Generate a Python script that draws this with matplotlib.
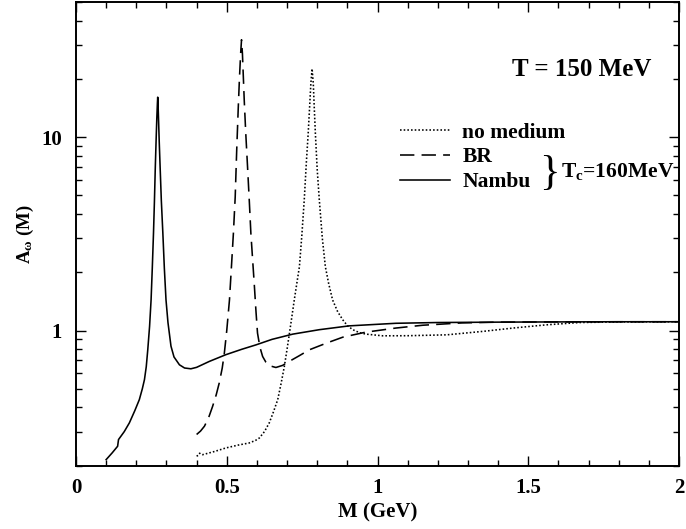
import matplotlib
matplotlib.use("Agg")
import matplotlib.pyplot as plt
from matplotlib.ticker import FixedLocator, NullFormatter, LogLocator

plt.rcParams['font.family'] = ['Liberation Serif', 'DejaVu Serif']
plt.rcParams['font.weight'] = 'bold'
plt.rcParams['mathtext.fontset'] = 'custom'
plt.rcParams['mathtext.rm'] = 'Liberation Serif:bold'
plt.rcParams['mathtext.bf'] = 'Liberation Serif:bold'
plt.rcParams['mathtext.it'] = 'Liberation Serif:bold'

# ---- data ----
nambu_x = [0.10, 0.120, 0.138, 0.141, 0.160, 0.177, 0.195, 0.210, 0.220, 0.227, 0.233, 0.238,
           0.244, 0.249, 0.253, 0.257, 0.260, 0.263, 0.266, 0.268, 0.270, 0.271, 0.272, 0.274,
           0.276, 0.279, 0.283, 0.288, 0.293, 0.2985, 0.305, 0.315, 0.325, 0.343, 0.360, 0.381,
           0.400, 0.442, 0.497, 0.550, 0.597, 0.650, 0.719, 0.807, 0.906, 1.061, 1.200, 1.400,
           1.600, 1.800, 2.000]
nambu_y = [0.215, 0.233, 0.252, 0.273, 0.300, 0.333, 0.385, 0.439, 0.500, 0.557, 0.650, 0.795,
           1.05, 1.44, 2.10, 3.19, 4.60, 7.00, 10.0, 12.5, 15.0, 16.1, 15.0, 12.0,
           9.50, 7.00, 4.70, 3.20, 2.10, 1.44, 1.10, 0.830, 0.730, 0.665, 0.640, 0.634,
           0.645, 0.692, 0.750, 0.800, 0.843, 0.900, 0.958, 1.010, 1.057, 1.090, 1.100, 1.105,
           1.108, 1.110, 1.110]

br_x = [0.400, 0.413, 0.426, 0.440, 0.453, 0.465, 0.475, 0.485, 0.492, 0.500, 0.509, 0.516,
        0.522, 0.528, 0.533, 0.538, 0.542, 0.546, 0.549, 0.552, 0.555, 0.558, 0.563, 0.569,
        0.575, 0.580, 0.586, 0.591, 0.597, 0.602, 0.610, 0.619, 0.630, 0.641, 0.663, 0.685,
        0.707, 0.740, 0.774, 0.830, 0.885, 0.960, 1.061, 1.150, 1.280, 1.400, 1.600, 1.800,
        2.000]
br_y = [0.290, 0.302, 0.320, 0.355, 0.405, 0.465, 0.535, 0.640, 0.764, 1.00, 1.44, 2.20,
        3.18, 4.90, 8.57, 14.0, 20.0, 27.0, 31.9, 27.0, 20.5, 15.5, 10.5, 7.00,
        4.60, 3.18, 2.30, 1.76, 1.25, 0.970, 0.820, 0.734, 0.685, 0.658, 0.644, 0.660,
        0.692, 0.740, 0.795, 0.860, 0.924, 0.980, 1.030, 1.065, 1.095, 1.105, 1.108, 1.110,
        1.110]

nm_x = [0.400, 0.405, 0.410, 0.415, 0.420, 0.460, 0.497, 0.540, 0.574, 0.595, 0.608, 0.625,
        0.641, 0.655, 0.669, 0.680, 0.691, 0.700, 0.708, 0.716, 0.724, 0.733, 0.741, 0.749,
        0.757, 0.764, 0.770, 0.775, 0.779, 0.783, 0.787, 0.790, 0.794, 0.800, 0.807, 0.817,
        0.827, 0.838, 0.851, 0.868, 0.885, 0.900, 0.918, 0.940, 0.962, 1.017, 1.100, 1.230,
        1.350, 1.450, 1.560, 1.670, 1.800, 2.000]
nm_y = [0.224, 0.226, 0.232, 0.229, 0.228, 0.237, 0.247, 0.256, 0.262, 0.270, 0.278, 0.300,
        0.333, 0.380, 0.439, 0.530, 0.652, 0.800, 0.970, 1.180, 1.44, 1.78, 2.14, 3.10,
        4.73, 7.40, 10.4, 14.5, 19.0, 22.6, 19.0, 14.5, 10.4, 6.80, 4.73, 3.00,
        2.14, 1.75, 1.44, 1.25, 1.135, 1.060, 1.010, 0.975, 0.958, 0.939, 0.940, 0.950,
        0.990, 1.030, 1.070, 1.100, 1.108, 1.110]

x_ticks = [0, 0.5, 1, 1.5, 2]
x_tick_labels = ["0", "0.5", "1", "1.5", "2"]
y_ticks = [1, 10]
y_tick_labels = ["1", "10"]

fig = plt.figure(figsize=(6.86, 5.29), dpi=100)
ax = fig.add_axes([0.1108, 0.1197, 0.879, 0.8765])

lw = 1.15
ax.plot(nm_x, nm_y, color='black', lw=lw, linestyle=(0, (1.0, 1.3)), label='no medium')
ax.plot(br_x, br_y, color='black', lw=lw, linestyle=(0, (9, 4.5)), label='BR')
ax.plot(nambu_x, nambu_y, color='black', lw=lw, linestyle='-', label='Nambu')

ax.set_yscale('log')
ax.set_xlim(0, 2)
ax.set_ylim(0.2, 50)

ax.set_xticks(x_ticks)
ax.set_xticklabels(x_tick_labels)
ax.xaxis.set_minor_locator(FixedLocator([i / 10 for i in range(21)]))
ax.yaxis.set_major_locator(FixedLocator(y_ticks))
ax.set_yticklabels(y_tick_labels)
ax.yaxis.set_minor_locator(LogLocator(base=10, subs=range(2, 10)))
ax.yaxis.set_minor_formatter(NullFormatter())

ax.tick_params(which='both', direction='in', top=True, right=True, labelsize=15, width=1)
ax.tick_params(axis='y', which='major', length=7, pad=10)
ax.tick_params(axis='x', which='major', length=7, pad=9)
ax.tick_params(which='minor', length=4.5)
for lab in ax.get_xticklabels() + ax.get_yticklabels():
    lab.set_fontweight('bold')
for s in ax.spines.values():
    s.set_linewidth(1.4)

ax.set_xlabel('M (GeV)', fontsize=15, fontweight='bold', labelpad=3)
ax.set_ylabel(r'A$_{\omega}$ (M)', fontsize=13.5, fontweight='bold', labelpad=4)

leg = ax.legend(loc='upper left', bbox_to_anchor=(0.537, 0.740), frameon=False,
                handlelength=2.35, handletextpad=0.55, labelspacing=0.22,
                borderpad=0, borderaxespad=0,
                prop={'family': 'Liberation Serif', 'weight': 'bold', 'size': 15.5})

ax.text(0.768, 0.630, '}', transform=ax.transAxes, fontsize=31, ha='left', va='center',
        fontweight='normal')
ax.text(0.805, 0.634, r'T$_{\rm c}$=160MeV', transform=ax.transAxes, fontsize=15.5,
        ha='left', va='center', fontweight='bold')
ax.text(0.723, 0.855, 'T = 150 MeV', transform=ax.transAxes, fontsize=18,
        ha='left', va='center', fontweight='bold')

fig.savefig('out.png', dpi=100)
